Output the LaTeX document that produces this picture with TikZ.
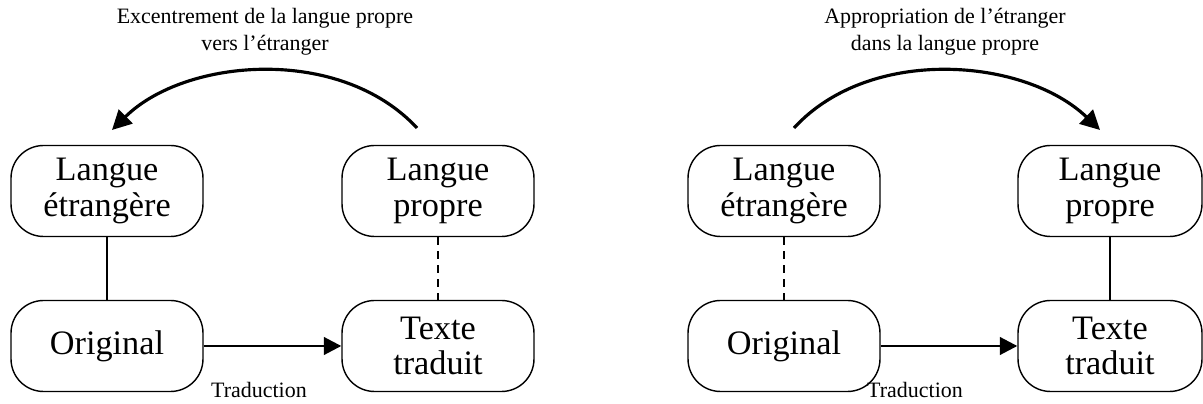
\documentclass[tikz,border=0pt]{standalone}
\usepackage{fontspec}
\setmainfont{Liberation Serif}
\usepackage{tikz}
\usetikzlibrary{arrows.meta}
\tikzstyle{Block}=[rectangle, rounded corners=0.65cm, minimum width=3.84cm, minimum height=1.82cm, align=center, draw=black, line width=0.8pt, font=\fontsize{19.5}{20}\selectfont]
\tikzstyle{Head}=[align=center, inner sep=0pt, font=\fontsize{12.5}{15.3}\selectfont]
\tikzstyle{Link}=[line width=1.6pt]
\tikzstyle{Bend}=[line width=1.8pt, -{Triangle[length=11pt,width=11pt]}]

\begin{document}
\begin{tikzpicture}[x=0.02cm, y=-0.02cm]
    \useasboundingbox (0,0) rectangle (1203,404);
    % left half
    \path
    (107,191) node[Block] (etrA) {Langue\\étrangère}
    (438,191) node[Block] (propA) {Langue\\propre}
    (107,346) node[Block] (origA) {Original}
    (438,346) node[Block] (texA) {Texte\\traduit}
    (265,32) node[Head] (titA) {Excentrement de la langue propre\\vers l'étranger}
    (259,390) node[Head] (tradA) {Traduction};
    \coordinate (startA) at (417,128);
    \coordinate (endA) at (112,130);

    \draw[Link] (etrA) -- (origA);
    \draw[Link, dash pattern=on 4.5pt off 3.5pt] (propA) -- (texA);
    \draw[Link, -{Triangle[length=10pt,width=10pt]}] (origA) -- (texA);
    \draw[Bend] (startA) .. controls (340,45) and (185,58) .. (endA);

    % right half
    \path
    (784,191) node[Block] (etrB) {Langue\\étrangère}
    (1110,191) node[Block, minimum width=3.68cm] (propB) {Langue\\propre}
    (784,346) node[Block] (origB) {Original}
    (1110,346) node[Block, minimum width=3.68cm] (texB) {Texte\\traduit}
    (945,32) node[Head] (titB) {Appropriation de l'étranger\\dans la langue propre}
    (915,390) node[Head] (tradB) {Traduction};
    \coordinate (startB) at (794,128);
    \coordinate (endB) at (1100,130);

    \draw[Link, dash pattern=on 4.5pt off 3.5pt] (etrB) -- (origB);
    \draw[Link] (propB) -- (texB);
    \draw[Link, -{Triangle[length=10pt,width=10pt]}] (origB) -- (texB);
    \draw[Bend] (startB) .. controls (870,45) and (1025,58) .. (endB);
\end{tikzpicture}
\end{document}
